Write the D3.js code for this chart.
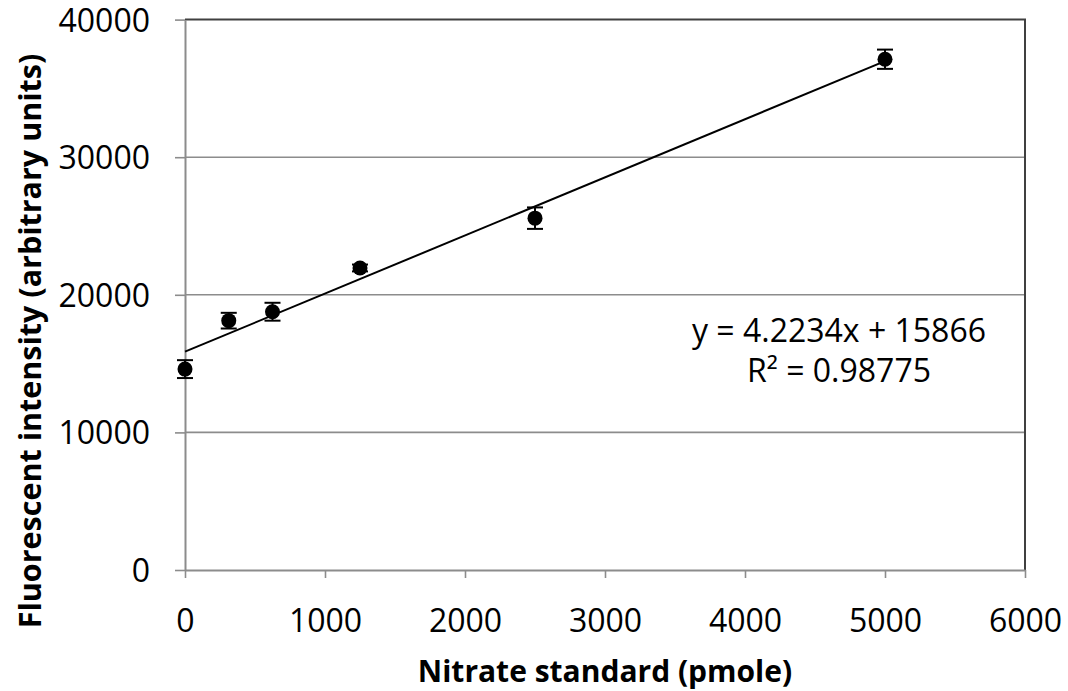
<!DOCTYPE html>
<html>
<head>
<meta charset="utf-8">
<script src="https://cdn.jsdelivr.net/npm/d3@7"></script>
<style>
  body { margin: 0; background: #fff; }
  svg { display: block; font-family: "Open Sans", sans-serif; }
</style>
</head>
<body>
<svg id="chart" width="1068" height="691"></svg>
<script>
// nitrate standard (pmole)
var nitrate = [0, 312.5, 625, 1250, 2500, 5000];
// fluorescent intensity, mean
var intensity = [14600, 18120, 18770, 21950, 25570, 37120];
// error bar half-heights
var errors = [650, 570, 650, 250, 780, 700];

var xTicks = [0, 1000, 2000, 3000, 4000, 5000, 6000];
var yTicks = [0, 10000, 20000, 30000, 40000];

var slope = 4.2234, intercept = 15866;
var eqText = "y = 4.2234x + 15866";
var r2Text = "R\u00b2 = 0.98775";

var svg = d3.select("#chart");
var m = { left: 185, right: 1025, top: 19.6, bottom: 570 };

var x = d3.scaleLinear().domain([0, 6000]).range([m.left, m.right]);
var y = d3.scaleLinear().domain([0, 40000]).range([m.bottom, m.top]);

var data = nitrate.map(function(d, i) {
  return { x: d, y: intensity[i], e: errors[i] };
});

// gridlines
svg.append("g").selectAll("line")
  .data(yTicks.filter(function(d) { return d > 0 && d < 40000; }))
  .enter().append("line")
  .attr("x1", m.left).attr("x2", m.right)
  .attr("y1", function(d) { return y(d); })
  .attr("y2", function(d) { return y(d); })
  .attr("stroke", "#8c8c8c").attr("stroke-width", 1.6);

// top + right border
svg.append("path")
  .attr("d", "M" + m.left + "," + y(40000) + "H" + m.right + "V" + m.bottom)
  .attr("fill", "none").attr("stroke", "#404040").attr("stroke-width", 2);

// axes
var xAxis = d3.axisBottom(x).tickValues(xTicks).tickSize(8).tickSizeOuter(0).tickFormat(d3.format("d"));
var yAxis = d3.axisLeft(y).tickValues(yTicks).tickSize(10).tickSizeOuter(0).tickFormat(d3.format("d"));

var gx = svg.append("g").attr("transform", "translate(0," + m.bottom + ")").call(xAxis);
var gy = svg.append("g").attr("transform", "translate(" + m.left + ",0)").call(yAxis);

[gx, gy].forEach(function(g) {
  g.select(".domain").attr("stroke", "#8c8c8c").attr("stroke-width", 2);
  g.selectAll(".tick line").attr("stroke", "#8c8c8c").attr("stroke-width", 1.6);
  g.selectAll(".tick text")
    .attr("font-family", "'Open Sans', sans-serif")
    .attr("font-size", 32).attr("fill", "#000");
});
gx.selectAll(".tick text").attr("y", 62).attr("dy", null);
gy.selectAll(".tick text").attr("x", -35).attr("dy", "0.36em");

// trendline
svg.append("line")
  .attr("x1", x(0)).attr("y1", y(intercept))
  .attr("x2", x(5000)).attr("y2", y(slope * 5000 + intercept))
  .attr("stroke", "#000").attr("stroke-width", 2);

// error bars
var eb = svg.append("g").attr("stroke", "#000").attr("stroke-width", 2);
eb.selectAll(".v").data(data).enter().append("line")
  .attr("x1", function(d) { return x(d.x); }).attr("x2", function(d) { return x(d.x); })
  .attr("y1", function(d) { return y(d.y - d.e); }).attr("y2", function(d) { return y(d.y + d.e); });
eb.selectAll(".c1").data(data).enter().append("line")
  .attr("x1", function(d) { return x(d.x) - 8; }).attr("x2", function(d) { return x(d.x) + 8; })
  .attr("y1", function(d) { return y(d.y + d.e); }).attr("y2", function(d) { return y(d.y + d.e); });
eb.selectAll(".c2").data(data).enter().append("line")
  .attr("x1", function(d) { return x(d.x) - 8; }).attr("x2", function(d) { return x(d.x) + 8; })
  .attr("y1", function(d) { return y(d.y - d.e); }).attr("y2", function(d) { return y(d.y - d.e); });

// points
svg.append("g").selectAll("circle").data(data).enter().append("circle")
  .attr("cx", function(d) { return x(d.x); })
  .attr("cy", function(d) { return y(d.y); })
  .attr("r", 7.5).attr("fill", "#000");

// equation
svg.append("text").attr("x", 839).attr("y", 342).attr("text-anchor", "middle")
  .attr("font-size", 32).text(eqText);
svg.append("text").attr("x", 839).attr("y", 382).attr("text-anchor", "middle")
  .attr("font-size", 32).text(r2Text);

// axis titles
svg.append("text").attr("x", 605).attr("y", 682).attr("text-anchor", "middle")
  .attr("font-size", 30).attr("font-weight", "bold").text("Nitrate standard (pmole)");
svg.append("text").attr("transform", "translate(41,341) rotate(-90)")
  .attr("text-anchor", "middle")
  .attr("font-size", 30.5).attr("font-weight", "bold").text("Fluorescent intensity (arbitrary units)");
</script>
</body>
</html>
